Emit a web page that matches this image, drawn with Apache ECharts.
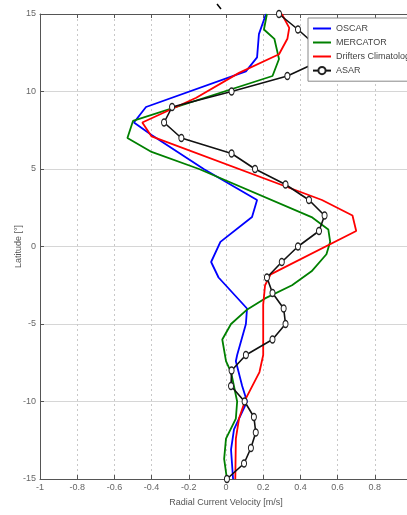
<!DOCTYPE html>
<html>
<head>
<meta charset="utf-8">
<script src="https://cdn.jsdelivr.net/npm/echarts@6/dist/echarts.min.js"></script>
<style>
  html, body { margin: 0; padding: 0; background: #fff; }
  #chart { width: 407px; height: 515px; }
</style>
</head>
<body>
<div id="chart"></div>
<script>
// Radial current velocity profiles versus latitude.
// Each profile: latitudes (deg) and velocities (m/s), listed north to south.
const oscarLat = [15, 13.7, 12.2, 11.3, 9.0, 8.0, 7.2, 5.0, 3.0, 1.9, 0.3, -1.0, -2.0, -4.0, -5.0, -7.0, -7.4, -9.0, -10.0, -11.8, -13.1, -15];
const oscarVel = [0.215, 0.177, 0.167, 0.107, -0.43, -0.495, -0.40, -0.12, 0.167, 0.14, -0.03, -0.08, -0.04, 0.113, 0.107, 0.06, 0.053, 0.087, 0.113, 0.043, 0.027, 0.038];

const mercatorLat = [15, 14, 13.4, 12.1, 11.0, 8.1, 7.0, 6.1, 5.0, 1.9, 1.1, 0.3, -0.5, -1.6, -2.5, -3.35, -4.1, -5.0, -6.0, -7.4, -8.1, -10.0, -11.1, -12.4, -13.7, -15];
const mercatorVel = [0.22, 0.204, 0.26, 0.285, 0.25, -0.50, -0.53, -0.40, -0.145, 0.46, 0.55, 0.56, 0.54, 0.46, 0.355, 0.21, 0.11, 0.027, -0.02, 0.0, 0.027, 0.06, 0.053, 0.0, -0.01, 0.005];

const driftersLat = [15, 14.1, 13.4, 12.4, 11.2, 9.6, 8.0, 7.1, 3.0, 2.0, 1.0, -1.8, -2.5, -3.75, -5.9, -7.0, -8.1, -9.8, -11.1, -12.4, -15];
const driftersVel = [0.30, 0.34, 0.33, 0.285, 0.07, -0.16, -0.45, -0.40, 0.516, 0.68, 0.70, 0.24, 0.21, 0.20, 0.20, 0.20, 0.18, 0.107, 0.07, 0.053, 0.05];

const asarLat = [15, 14, 13, 12, 11, 10, 9, 8, 7, 6, 5, 4, 3, 2, 1, 0, -1, -2, -3, -4, -5, -6, -7, -8, -9, -10, -11, -12, -13, -14, -15];
const asarVel = [0.285, 0.387, 0.48, 0.51, 0.33, 0.03, -0.29, -0.333, -0.24, 0.03, 0.156, 0.32, 0.446, 0.53, 0.50, 0.387, 0.30, 0.22, 0.25, 0.31, 0.32, 0.25, 0.107, 0.03, 0.027, 0.10, 0.15, 0.16, 0.134, 0.097, 0.005];

const seriesNames = ['OSCAR', 'MERCATOR', 'Drifters Climatology', 'ASAR'];

function pairs(vel, lat) {
  return vel.map((v, i) => [v, lat[i]]);
}

const font = 'Liberation Sans, Arial, sans-serif';
const tickStyle = { show: true, inside: true, length: 4, lineStyle: { color: '#555' } };
const gridLine = { show: true, lineStyle: { color: '#c8c8c8', type: [2, 3], width: 1 } };
const axisLine = { show: true, onZero: false, lineStyle: { color: '#555', width: 1 } };
// plain line swatches in the legend for the unmarked profiles
const noMarker = { opacity: 0, color: 'rgba(0,0,0,0)', borderColor: 'rgba(0,0,0,0)' };

const chart = echarts.init(document.getElementById('chart'), null, { renderer: 'canvas' });

chart.setOption({
  animation: false,
  backgroundColor: '#fff',
  grid: { left: 40, right: -5, top: 14, bottom: 36, containLabel: false, outerBoundsMode: 'none' },
  xAxis: [
    {
      type: 'value', min: -1, max: 1, interval: 0.2,
      name: 'Radial Current Velocity [m/s]',
      nameLocation: 'middle', nameGap: 19,
      nameTextStyle: { fontFamily: font, fontSize: 9, color: '#555' },
      axisLine: axisLine,
      axisTick: tickStyle,
      axisLabel: { fontFamily: font, fontSize: 9, color: '#666', margin: 4,
        formatter: v => (Math.round(v * 10) / 10).toString() },
      splitLine: gridLine
    },
    {
      type: 'value', min: -1, max: 1, interval: 0.2, position: 'top',
      axisLine: axisLine,
      axisTick: tickStyle,
      axisLabel: { show: false },
      splitLine: { show: false }
    }
  ],
  yAxis: {
    type: 'value', min: -15, max: 15, interval: 5,
    name: 'Latitude [°]',
    nameLocation: 'middle', nameGap: 17, nameMoveOverlap: false,
    nameTextStyle: { fontFamily: font, fontSize: 9, color: '#555' },
    axisLine: axisLine,
    axisTick: tickStyle,
    axisLabel: { fontFamily: font, fontSize: 9, color: '#666', margin: 4 },
    splitLine: { show: true, lineStyle: { color: '#d6d6d6', width: 1 } }
  },
  legend: {
    orient: 'vertical',
    left: 308, top: 18,
    padding: [6, 4, 6, 4],
    itemGap: 5,
    itemWidth: 18, itemHeight: 9,
    backgroundColor: '#fff',
    borderColor: '#888', borderWidth: 1,
    textStyle: { fontFamily: font, fontSize: 9, color: '#444' },
    data: [
      { name: seriesNames[0], itemStyle: noMarker },
      { name: seriesNames[1], itemStyle: noMarker },
      { name: seriesNames[2], itemStyle: noMarker },
      { name: seriesNames[3] }
    ]
  },
  series: [
    {
      name: seriesNames[0], type: 'line', data: pairs(oscarVel, oscarLat),
      symbol: 'none', lineStyle: { color: '#0000ff', width: 1.8 }, itemStyle: { color: '#0000ff' }
    },
    {
      name: seriesNames[1], type: 'line', data: pairs(mercatorVel, mercatorLat),
      symbol: 'none', lineStyle: { color: '#008000', width: 1.8 }, itemStyle: { color: '#008000' }
    },
    {
      name: seriesNames[2], type: 'line', data: pairs(driftersVel, driftersLat),
      symbol: 'none', lineStyle: { color: '#ff0000', width: 1.8 }, itemStyle: { color: '#ff0000' }
    },
    {
      name: seriesNames[3], type: 'line', data: pairs(asarVel, asarLat),
      symbol: 'circle', symbolSize: [5, 7], showAllSymbol: true,
      lineStyle: { color: '#111', width: 1.6 },
      itemStyle: { color: '#fff', borderColor: '#222', borderWidth: 1.2 }
    }
  ],
  graphic: [
    { type: 'line', shape: { x1: 217, y1: 4, x2: 221, y2: 9 }, style: { stroke: '#000', lineWidth: 1.5 } }
  ]
});
</script>
</body>
</html>
